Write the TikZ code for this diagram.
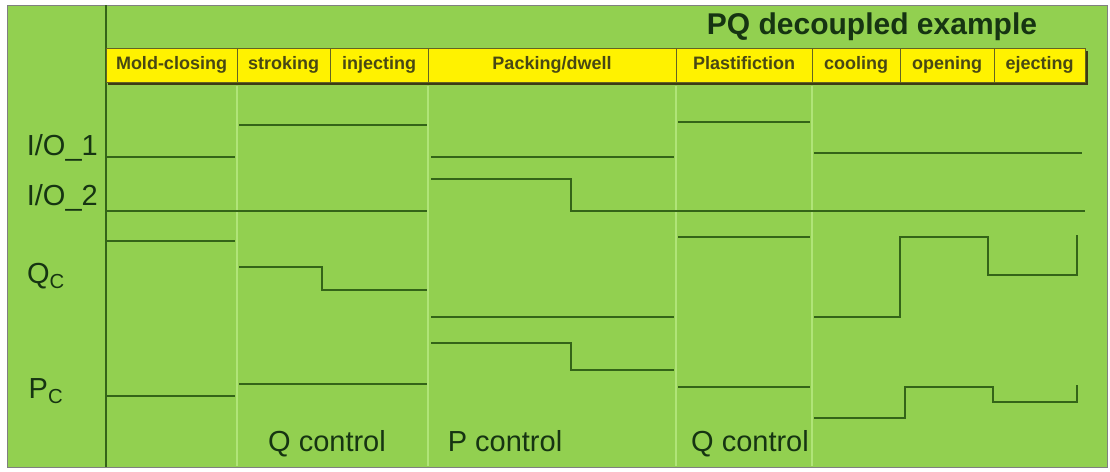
\documentclass[tikz,border=0pt]{standalone}
\usepackage{fontspec}
\setmainfont{Liberation Sans}
\definecolor{bggreen}{RGB}{146,208,80}
\definecolor{sigline}{RGB}{52,100,24}
\definecolor{sepline}{RGB}{176,228,120}
\definecolor{labeltext}{RGB}{22,52,18}
\definecolor{celltext}{RGB}{72,72,20}
\definecolor{cellline}{RGB}{100,100,34}
\begin{document}
\begin{tikzpicture}[x=1pt,y=-1pt,
    sig/.style={sigline,line width=1.8pt},
    sep/.style={sepline,line width=2.5pt},
    cell/.style={draw=cellline,line width=1pt,fill=yellow,inner sep=0pt,minimum height=34pt,
      text height=13pt,text depth=4pt,font=\fontsize{18}{20}\selectfont\bfseries,text=celltext},
    lab/.style={font=\fontsize{29}{32}\selectfont,text=labeltext,inner sep=0pt}]
    \useasboundingbox (0,0) rectangle (1110,471);
    \draw[color=gray,fill=bggreen] (7,5) rectangle (1107,467);
    \foreach \x in {237,428,676,812}
    \draw[sep] (\x,86)--(\x,466);
    \draw[sigline,line width=2pt] (106,5)--(106,467);
    \fill[cellline!60!black] (108,51) rectangle (1088,85);
    \foreach \a/\b/\t [count=\i] in {106/237/Mold-closing,237/330/stroking,330/428/injecting,428/676/{Packing/dwell},676/812/Plastifiction,812/900/cooling,900/994/opening,994/1085/ejecting}
    \node[cell,minimum width={(\b-\a)*1pt}] (c\i) at ({(\a+\b)/2},65) {\t};
    \node[lab,font=\fontsize{30}{32}\selectfont\bfseries] (title) at (872,27) {PQ decoupled example};
    \node[lab,anchor=base east] (io1) at (98,155) {I/O\_1};
    \node[lab,anchor=base east] (io2) at (98,205) {I/O\_2};
    \node[lab,anchor=base] (qc) at (46,283) {Q\textsubscript{C}};
    \node[lab,anchor=base] (pc) at (46,398) {P\textsubscript{C}};
    \node[lab,anchor=base] (qctrl1) at (327,451) {Q control};
    \node[lab,anchor=base] (pctrl) at (505,451) {P control};
    \node[lab,anchor=base] (qctrl2) at (750,451) {Q control};
    \draw[sig] (106,157)--(235,157);
    \draw[sig] (239,125)--(427,125);
    \draw[sig] (431,157)--(674,157);
    \draw[sig] (678,122)--(810,122);
    \draw[sig] (814,153)--(1082,153);
    \draw[sig] (106,211)--(427,211);
    \draw[sig] (431,179)--(571,179)--(571,211)--(1085,211);
    \draw[sig] (106,241)--(235,241);
    \draw[sig] (239,267)--(322,267)--(322,290)--(427,290);
    \draw[sig] (431,317)--(674,317);
    \draw[sig] (678,237)--(810,237);
    \draw[sig] (814,317)--(900,317)--(900,237)--(988,237)--(988,275)--(1077,275)--(1077,235);
    \draw[sig] (106,396)--(235,396);
    \draw[sig] (239,384)--(427,384);
    \draw[sig] (431,343)--(571,343)--(571,370)--(674,370);
    \draw[sig] (678,387)--(810,387);
    \draw[sig] (814,418)--(905,418)--(905,387)--(993,387)--(993,402)--(1077,402)--(1077,385);
\end{tikzpicture}
\end{document}
